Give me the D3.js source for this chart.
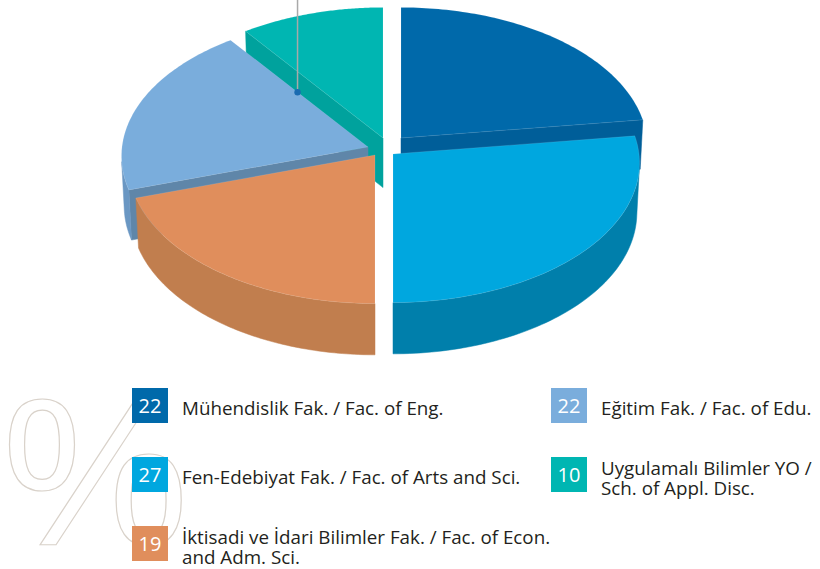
<!DOCTYPE html>
<html>
<head>
<meta charset="utf-8">
<script src="https://cdn.jsdelivr.net/npm/d3@7"></script>
<style>
  html, body { margin: 0; padding: 0; background: #fff; }
  svg { display: block; }
</style>
</head>
<body>
<svg id="chart" width="820" height="569"></svg>
<script>
// legend text, one entry per faculty (several lines where the label wraps)
const labelLines = [
  ["Mühendislik Fak. / Fac. of Eng."],
  ["Fen-Edebiyat Fak. / Fac. of Arts and Sci."],
  ["İktisadi ve İdari Bilimler Fak. / Fac. of Econ.", "and Adm. Sci."],
  ["Eğitim Fak. / Fac. of Edu."],
  ["Uygulamalı Bilimler YO /", "Sch. of Appl. Disc."]
];
// printed percentages in the legend boxes
const percentLabels = [22, 27, 19, 22, 10];
// slice sizes as drawn in the pie
const sliceShares = [22.9, 27.1, 20.1, 19.9, 10];

const topColors    = ["#0069aa", "#00a7df", "#e08e5c", "#7aaddc", "#00b6b2"];
const radialColors = ["#005e99", "#0082ad", "#c07d4d", "#5f86a9", "#00a29d"];
const curvedColors = ["#005e99", "#007fab", "#c17e4e", "#6a97c3", "#00a29d"];

// layout
const cx0 = 385, cy0 = 147;                 // pie centre on screen
const sliceShift = [[16, -9], [8, 7], [-10, 8], [-17, 0], [-2, -9]]; // explode offsets
const legendPos = [[132, 388], [132, 457], [132, 526], [551, 388], [551, 457]];

// perspective set-up
const L = 12.78, rx0 = 246, F = rx0 * L;
const sphi = 0.565, cphi = 0.825, H = 0.247;
function proj(u, v, h) {
  const z = L + v * cphi - h * sphi;
  return [F * u / z, -F * (v * sphi + h * cphi) / z];
}

const svg = d3.select("#chart");

// big % watermark
svg.append("text")
  .attr("x", 2).attr("y", 545)
  .attr("font-family", "Liberation Sans, Arial, sans-serif")
  .attr("font-size", 210)
  .attr("fill", "none")
  .attr("stroke", "#d9d2ca")
  .attr("stroke-width", 1.2)
  .text("%");

const pie = d3.pie().sort(null).value(d => d)(sliceShares);
const N = 80;
const faces = [], tops = [];
const camV = -L * cphi;

pie.forEach((p, i) => {
  const [sx, sy] = sliceShift[i];
  const pt = (a, r, h) => {
    const q = proj(r * Math.sin(a), r * Math.cos(a), h);
    return [cx0 + sx + q[0], cy0 + sy + q[1]];
  };
  const depth = (a, r) => L + r * Math.cos(a) * cphi;
  const arcA = d3.range(N + 1).map(k => p.startAngle + (p.endAngle - p.startAngle) * k / N);

  tops.push({ i, pts: [pt(0, 0, 0), ...arcA.map(a => pt(a, 1, 0))] });

  // radial cut faces
  [[p.startAngle, -1], [p.endAngle, 1]].forEach(([a, s]) => {
    const nu = s * Math.cos(a), nv = -s * Math.sin(a);
    const mu = 0.5 * Math.sin(a), mv = 0.5 * Math.cos(a);
    if (nu * (0 - mu) + nv * (camV - mv) > 1e-3) {
      faces.push({ i, fill: radialColors[i], z: depth(a, 0.5),
        pts: [pt(a, 0, 0), pt(a, 1, 0), pt(a, 1, -H), pt(a, 0, -H)] });
    }
  });

  // outer curved wall, visible part only
  let run = [];
  const flush = () => {
    if (run.length > 1) {
      faces.push({ i, fill: curvedColors[i], z: depth(run[Math.floor(run.length / 2)], 1),
        pts: [...run.map(a => pt(a, 1, 0)), ...run.slice().reverse().map(a => pt(a, 1, -H))] });
    }
    run = [];
  };
  arcA.forEach(a => {
    const vis = -1 + camV * Math.cos(a) > 0;
    if (vis) run.push(a); else flush();
  });
  flush();
});

const line = d3.line();
faces.sort((a, b) => b.z - a.z);

svg.append("g").selectAll("path")
  .data(faces).join("path")
  .attr("d", d => line(d.pts) + "Z")
  .attr("fill", d => d.fill)
  .attr("stroke", d => d.fill)
  .attr("stroke-width", 0.5);

svg.append("g").selectAll("path")
  .data(tops).join("path")
  .attr("d", d => line(d.pts) + "Z")
  .attr("fill", d => topColors[d.i])
  .attr("stroke", "rgba(255,255,255,0.18)")
  .attr("stroke-width", 0.6);

// leader line pointing at the Eğitim slice edge
const pe = pie[3];
const q = proj(0.5 * Math.sin(pe.endAngle), 0.5 * Math.cos(pe.endAngle), 0);
const lx = cx0 + sliceShift[3][0] + q[0], ly = cy0 + sliceShift[3][1] + q[1];
svg.append("line")
  .attr("x1", lx).attr("y1", 0).attr("x2", lx).attr("y2", ly)
  .attr("stroke", "#a9a9a9").attr("stroke-width", 1.5);
svg.append("circle")
  .attr("cx", lx).attr("cy", ly).attr("r", 3.2)
  .attr("fill", "#1a6bb0");

// legend
const leg = svg.append("g").selectAll("g")
  .data(labelLines).join("g")
  .attr("transform", (d, i) => `translate(${legendPos[i][0]},${legendPos[i][1]})`);

leg.append("rect")
  .attr("width", 36).attr("height", 35)
  .attr("fill", (d, i) => topColors[i]);

leg.append("text")
  .attr("x", 18).attr("y", 24.5)
  .attr("text-anchor", "middle")
  .attr("font-family", "Open Sans, sans-serif")
  .attr("font-size", 20)
  .attr("fill", "#fff")
  .text((d, i) => percentLabels[i]);

leg.append("text")
  .attr("font-family", "Open Sans, sans-serif")
  .attr("font-size", 18.8)
  .attr("fill", "#231f20")
  .each(function (d) {
    const t = d3.select(this);
    const ys = d.length === 1 ? [27] : [18, 38];
    d.forEach((s, k) => t.append("tspan").attr("x", 50).attr("y", ys[k]).text(s));
  });
</script>
</body>
</html>
